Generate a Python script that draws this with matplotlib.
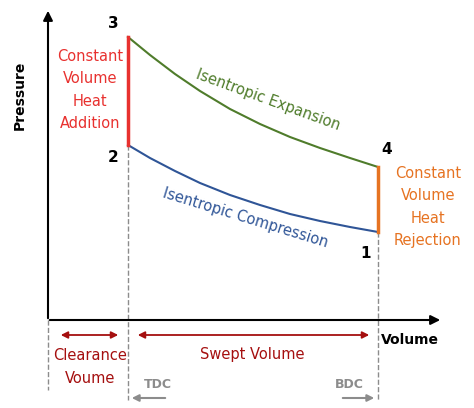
import matplotlib.pyplot as plt

# coordinates in the picture's pixel frame (y grows downward)
v_tdc, v_bdc = 128, 378
comp_v = [128, 150, 175, 200, 230, 260, 290, 320, 350, 378]
comp_p = [145, 158, 171, 183, 195, 205, 214, 221, 227, 232]
exp_v = [128, 150, 175, 200, 230, 260, 290, 320, 350, 378]
exp_p = [37, 55, 74, 91, 109, 124, 137, 148, 158, 167]

fig = plt.figure(figsize=(4.74, 4.08), dpi=100)
ax = fig.add_axes([0, 0, 1, 1])
ax.set_xlim(0, 474)
ax.set_ylim(408, 0)
ax.axis('off')

red = '#e8312f'
orange = '#e67322'
green = '#4f7c2b'
blue = '#2f5597'
dred = '#a50f0f'
gray = '#8c8c8c'

# axes
ax.annotate('', xy=(48, 8), xytext=(48, 321),
            arrowprops=dict(arrowstyle='-|>', color='black', lw=1.5, mutation_scale=14))
ax.annotate('', xy=(443, 320), xytext=(47, 320),
            arrowprops=dict(arrowstyle='-|>', color='black', lw=1.5, mutation_scale=14))
ax.text(20, 95, 'Pressure', rotation=90, fontsize=10, fontweight='bold', ha='center', va='center')
ax.text(410, 340, 'Volume', fontsize=10, fontweight='bold', ha='center', va='center')

# dashed guides
ax.plot([48, 48], [320, 390], ls='--', color=gray, lw=1)
ax.plot([v_tdc, v_tdc], [comp_p[0], 400], ls='--', color=gray, lw=1)
ax.plot([v_bdc, v_bdc], [comp_p[-1], 400], ls='--', color=gray, lw=1)

# cycle
ax.plot(comp_v, comp_p, color=blue, lw=1.5)
ax.plot(exp_v, exp_p, color=green, lw=1.5)
ax.plot([v_tdc, v_tdc], [exp_p[0], comp_p[0]], color=red, lw=2.5)
ax.plot([v_bdc, v_bdc], [exp_p[-1], comp_p[-1]], color=orange, lw=2.5)

for s, x, y in [('3', 113, 24), ('2', 113, 158), ('4', 387, 149), ('1', 366, 254)]:
    ax.text(x, y, s, fontsize=11, fontweight='bold', ha='center', va='center')

fs = 10.5
ax.text(90, 90, 'Constant\nVolume\nHeat\nAddition', color=red, fontsize=fs,
        ha='center', va='center', linespacing=1.6)
ax.text(428, 207, 'Constant\nVolume\nHeat\nRejection', color=orange, fontsize=fs,
        ha='center', va='center', linespacing=1.6)
ax.text(268, 100, 'Isentropic Expansion', color=green, fontsize=fs, rotation=-20,
        ha='center', va='center')
ax.text(245, 218, 'Isentropic Compression', color=blue, fontsize=fs, rotation=-17,
        ha='center', va='center')

# volume annotations
ax.annotate('', xy=(58, 335), xytext=(121, 335),
            arrowprops=dict(arrowstyle='<|-|>', color=dred, lw=1.3, mutation_scale=10))
ax.annotate('', xy=(135, 335), xytext=(372, 335),
            arrowprops=dict(arrowstyle='<|-|>', color=dred, lw=1.3, mutation_scale=10))
ax.text(90, 367, 'Clearance\nVoume', color=dred, fontsize=fs, ha='center', va='center',
        linespacing=1.6)
ax.text(252, 354, 'Swept Volume', color=dred, fontsize=fs, ha='center', va='center')

ax.text(158, 384, 'TDC', color=gray, fontsize=9, fontweight='bold', ha='center', va='center')
ax.text(349, 384, 'BDC', color=gray, fontsize=9, fontweight='bold', ha='center', va='center')
ax.annotate('', xy=(129, 398), xytext=(168, 398),
            arrowprops=dict(arrowstyle='-|>', color=gray, lw=1.5, mutation_scale=10))
ax.annotate('', xy=(377, 398), xytext=(340, 398),
            arrowprops=dict(arrowstyle='-|>', color=gray, lw=1.5, mutation_scale=10))

fig.savefig('out.png', dpi=100)
